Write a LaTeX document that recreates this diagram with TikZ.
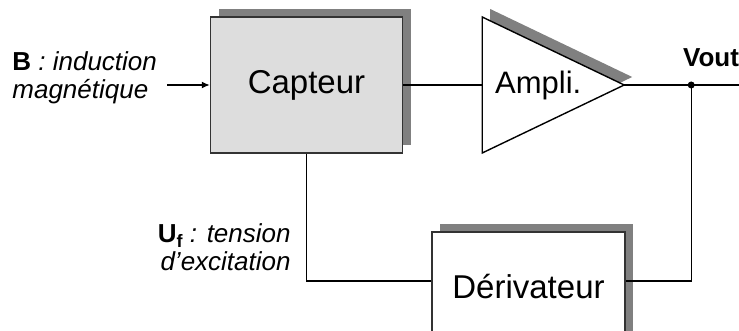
\documentclass[tikz,border=0pt]{standalone}
\usepackage{fontspec}
\setmainfont{Liberation Sans}
\usetikzlibrary{positioning, calc, shadows, arrows.meta}
\definecolor{boxgray}{RGB}{221,221,221}
\definecolor{shadowgray}{RGB}{128,128,128}

\begin{document}
\begin{tikzpicture}[
        x=0.5pt, y=0.5pt,
        every node/.style={font=\fontsize{13}{14}\selectfont},
        block/.style={rectangle, draw=black!80, line width=0.7pt, fill=white, minimum width=96pt, minimum height=68pt, inner sep=0pt, font=\fontsize{16.5}{19}\selectfont, general shadow={shadow xshift=4pt, shadow yshift=4pt, fill=shadowgray}},
        wire/.style={line width=0.7pt},
        label/.style={inner sep=0pt},
    ]
        \useasboundingbox (0,0) rectangle (739,331);
        \clip (0,0) rectangle (739,331);
        \node[block, fill=boxgray] (CAP) at (306.5,246) {Capteur};
        % amplificateur
        \coordinate[right=39.5pt of CAP.east] (AMPin);
        \coordinate (AMPtip) at ($(AMPin)+(142,0)$);
        \fill[shadowgray] ($(AMPin)+(8,76)$) -- ($(AMPtip)+(8,8)$) -- ($(AMPin)+(8,-60)$) -- cycle;
        \draw[wire, fill=white] ($(AMPin)+(0,68)$) -- (AMPtip) -- ($(AMPin)+(0,-68)$) -- cycle;
        \node[font=\fontsize{15.5}{18}\selectfont] (AMP) at ($(AMPin)+(56,0)$) {Ampli.};
        \node[block, minimum width=96.5pt, minimum height=55pt] (DER) at (528.5,44) {Dérivateur};
        % sortie
        \coordinate (J) at ($(AMPtip)+(67,0)$);
        \coordinate (OUT) at ($(AMPtip)+(116,0)$);
        \coordinate (IN) at (167,246);
        \draw[wire, -{Latex[length=4pt, width=3.5pt]}] (IN) -- (CAP.west);
        \draw[wire] (CAP.east) -- (AMPin);
        \draw[wire] (AMPtip) -- (OUT);
        \fill (J) circle (3.5);
        \draw[wire] (J) |- ([yshift=3pt]DER.east);
        \draw[wire] (CAP.south) |- ([yshift=3pt]DER.west);
        % textes
        \node[label, align=left, anchor=west] (Blbl) at (12,253) {\textbf{B} \textit{: induction}\\\textit{magnétique}};
        \node[label, align=right, anchor=east] (Uflbl) at (291,84) {\textbf{U\raisebox{-0.35ex}{\fontsize{9}{9}\selectfont f}} \textit{: tension}\\\textit{d’excitation}};
        \node[label, font=\bfseries\fontsize{13}{14}\selectfont] (Vlbl) at (711,273) {Vout};
    \end{tikzpicture}
\end{document}
